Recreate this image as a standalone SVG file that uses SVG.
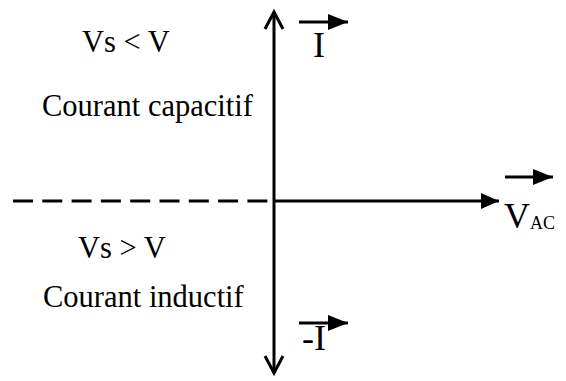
<svg xmlns="http://www.w3.org/2000/svg" width="566" height="381" viewBox="0 0 566 381">
<style>
.ax{stroke:#000;stroke-width:3;fill:none}
.lbl{font-size:30.5px}
.vec{font-size:36px}
.sub{font-size:18px}
</style>
<defs>
<marker id="tri" markerUnits="userSpaceOnUse" viewBox="0 0 20 16" markerWidth="20" markerHeight="16" refX="20" refY="8" orient="auto"><path d="M0,0 L20,8 L0,16 Z" fill="#000"/></marker>
<marker id="tri2" markerUnits="userSpaceOnUse" viewBox="0 0 18 16" markerWidth="18" markerHeight="16" refX="18" refY="8" orient="auto"><path d="M0,0 L18,8 L0,16 Z" fill="#000"/></marker>
</defs>
<g id="connectors">
<line class="ax" x1="274" y1="12" x2="274" y2="373"/>
<polyline class="ax" points="265,29 274,12 283,29"/>
<polyline class="ax" points="265,356 274,373 283,356"/>
<line class="ax" x1="274" y1="201" x2="499" y2="201" marker-end="url(#tri2)"/>
<line class="ax" x1="13" y1="201" x2="272" y2="201" stroke-dasharray="20 9.3"/>
</g>
<g font-family="Liberation Serif, DejaVu Serif, serif" fill="#000">
<g id="vec-I">
<line class="ax" x1="299" y1="22" x2="348" y2="22" stroke-width="4" marker-end="url(#tri)"/>
<text class="vec" x="313" y="57">I</text>
</g>
<g id="vec-minusI">
<line class="ax" x1="299" y1="323" x2="348" y2="323" stroke-width="4" marker-end="url(#tri)"/>
<text class="vec" x="302" y="350">-I</text>
</g>
<g id="vec-VAC">
<line class="ax" x1="505" y1="177" x2="553" y2="177" stroke-width="4" marker-end="url(#tri)"/>
<text class="vec" x="504" y="228">V<tspan class="sub" dy="1">AC</tspan></text>
</g>
<g id="label-top">
<text class="lbl" x="82" y="52">Vs &lt; V</text>
<text class="lbl" x="42" y="116">Courant capacitif</text>
</g>
<g id="label-bottom">
<text class="lbl" x="78" y="258">Vs &gt; V</text>
<text class="lbl" x="43" y="307">Courant inductif</text>
</g>
</g>
</svg>
